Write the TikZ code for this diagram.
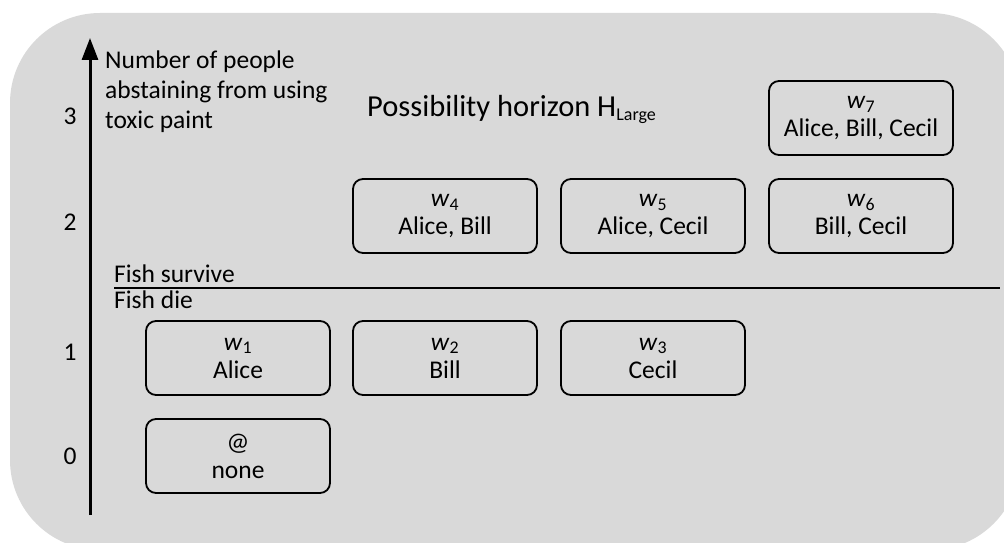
\documentclass[tikz,border=0pt]{standalone}
\usepackage{fontspec}
\setmainfont{Carlito}
\usetikzlibrary{arrows.meta, positioning}

\definecolor{panelgray}{HTML}{D9D9D9}

\begin{document}
\begin{tikzpicture}[x=1pt, y=-1pt,
    world/.style={draw, rounded corners=10pt, line width=1.8pt, minimum width=184pt,
                  minimum height=74pt, align=center, inner sep=0pt,
                  font=\fontsize{25.5}{28}\selectfont},
    lbl/.style={inner sep=0pt, font=\fontsize{25.5}{30}\selectfont}]
    \useasboundingbox (0,0) rectangle (1004,543);

    % Fond gris arrondi
    \fill[panelgray, rounded corners=90pt] (10,13) rectangle (1020,550);

    % Axe vertical avec fleche
    \coordinate (axbot) at (90,515);
    \coordinate (axtop) at (90,38);
    \draw[line width=3pt, -{Triangle[width=16pt,length=22pt]}] (axbot) -- (axtop);
    \node[lbl, anchor=north west, align=left] (axtitle) at (105,51)
        {Number of people\\abstaining from using\\toxic paint};

    % Graduations
    \foreach \n/\y in {0/456, 1/352, 2/222, 3/116}
        \node[lbl] (tick\n) at (70,\y) {\n};

    % Titre
    \node[inner sep=0pt, anchor=base west, font=\fontsize{30.5}{36}\selectfont] (title) at (367,116)
        {Possibility horizon H\raisebox{-5pt}{\fontsize{18}{20}\selectfont Large}};

    % Separation survie / mort
    \coordinate (cutL) at (114,288);
    \coordinate (cutR) at (1000,288);
    \draw[line width=1.5pt] (cutL) -- (cutR);
    \node[lbl, anchor=base west] (survive) at (114,282) {Fish survive};
    \node[lbl, anchor=base west] (die) at (114,308) {Fish die};

    % Mondes possibles
    \node[world] (w0) at (238,456) {@\\none};
    \node[world] (w1) at (238,358) {\textit{w}\textsubscript{1}\\Alice};
    \node[world] (w2) at (445,358) {\textit{w}\textsubscript{2}\\Bill};
    \node[world] (w3) at (653,358) {\textit{w}\textsubscript{3}\\Cecil};
    \node[world] (w4) at (445,216) {\textit{w}\textsubscript{4}\\Alice, Bill};
    \node[world] (w5) at (653,216) {\textit{w}\textsubscript{5}\\Alice, Cecil};
    \node[world] (w6) at (861,216) {\textit{w}\textsubscript{6}\\Bill, Cecil};
    \node[world] (w7) at (861,118) {\textit{w}\textsubscript{7}\\Alice, Bill, Cecil};
\end{tikzpicture}
\end{document}
